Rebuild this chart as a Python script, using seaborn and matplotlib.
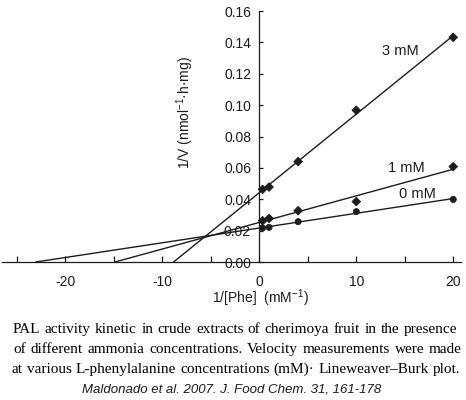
import numpy as np
import pandas as pd
import seaborn as sns
import matplotlib.pyplot as plt
from matplotlib.ticker import FixedLocator

# 1/[Phe] values (mM^-1) and 1/V readings for each ammonia concentration
inv_phe = [0.33, 1, 4, 10, 20]
inv_v_0mM = [0.0217, 0.0221, 0.0257, 0.0321, 0.0399]
inv_v_1mM = [0.0263, 0.0278, 0.0327, 0.0385, 0.0608]
inv_v_3mM = [0.0463, 0.0478, 0.0640, 0.0967, 0.1432]

series_names = ['0 mM', '1 mM', '3 mM']
series_markers = {'0 mM': 'o', '1 mM': 'D', '3 mM': 'D'}

x_major = [-20, -10, 0, 10, 20]
x_minor = [-25, -15, -5, 5, 15]
y_ticks = [0.00, 0.02, 0.04, 0.06, 0.08, 0.10, 0.12, 0.14, 0.16]

caption_lines = [
    'PAL activity kinetic in crude extracts of cherimoya fruit in the presence',
    'of different ammonia concentrations. Velocity measurements were made',
    'at various L-phenylalanine concentrations (mM)\u00b7 Lineweaver\u2013Burk plot.',
]
citation = 'Maldonado et al. 2007. J. Food Chem. 31, 161-178'

df = pd.DataFrame({
    'x': inv_phe * 3,
    'y': inv_v_0mM + inv_v_1mM + inv_v_3mM,
    'conc': [n for n in series_names for _ in inv_phe],
})

sns.set_style('white')
plt.rcParams['font.family'] = ['Liberation Sans', 'DejaVu Sans']
plt.rcParams['mathtext.default'] = 'regular'
plt.rcParams['axes.unicode_minus'] = False

ink = '#1c1c1c'
W, H = 466, 400
fig = plt.figure(figsize=(W / 100, H / 100), dpi=100)
ax = fig.add_axes([1.5 / W, 138 / H, 459.5 / W, 251 / H])

# least-squares lines, drawn from the x-intercept to the last point
for name in series_names:
    sub = df[df.conc == name]
    slope, icpt = np.polyfit(sub.x, sub.y, 1)
    xs = np.array([-icpt / slope, sub.x.max()])
    line = pd.DataFrame({'x': xs, 'y': slope * xs + icpt})
    sns.lineplot(data=line, x='x', y='y', ax=ax, color=ink, lw=1.0)

sns.scatterplot(data=df, x='x', y='y', style='conc', markers=series_markers,
                ax=ax, color=ink, s=20, edgecolor=ink, linewidth=0.5, legend=False)

ax.set_xlim(-26.6, 20.8)
ax.set_ylim(0, 0.16)

ax.spines['left'].set_position(('data', 0))
ax.spines['top'].set_visible(False)
ax.spines['right'].set_visible(False)
for sp in ['left', 'bottom']:
    ax.spines[sp].set_color(ink)
    ax.spines[sp].set_linewidth(0.9)

ax.xaxis.set_major_locator(FixedLocator(x_major))
ax.xaxis.set_minor_locator(FixedLocator(x_minor))
ax.set_yticks(y_ticks)
ax.set_yticklabels(['%.2f' % v for v in y_ticks])
ax.tick_params(axis='both', which='both', direction='in', width=0.9,
               color=ink, labelsize=10, labelcolor=ink)
ax.tick_params(axis='x', which='both', bottom=True, length=4, pad=9)
ax.tick_params(axis='y', left=True, length=3, pad=6)
ax.set_xlabel('')
ax.set_ylabel('')

ax.text(0.1, -0.023, '1/[Phe]  (mM$^{-1}$)', ha='center', va='center', fontsize=10, color=ink)
ax.text(-7.7, 0.095, '1/V (nmol$^{-1}$\u00b7h\u00b7mg)', rotation=90, ha='center', va='center',
        fontsize=10, color=ink)

ax.text(14.5, 0.1345, '3 mM', ha='center', va='center', fontsize=10.5, color=ink)
ax.text(15.2, 0.060, '1 mM', ha='center', va='center', fontsize=10.5, color=ink)
ax.text(16.3, 0.0433, '0 mM', ha='center', va='center', fontsize=10.5, color=ink)

# caption, justified word by word
renderer = fig.canvas.get_renderer()
caption_rows = [(13, 457, 333), (13, 462, 353), (12, 460, 373)]
for text_line, (x0, x1, base) in zip(caption_lines, caption_rows):
    words = text_line.split(' ')
    items = [fig.text(0, 1 - base / H, w, family=['Liberation Serif', 'DejaVu Serif'],
                      fontsize=11, va='baseline', color='black') for w in words]
    widths = [t.get_window_extent(renderer).width for t in items]
    gap = (x1 - x0 - sum(widths)) / (len(words) - 1)
    pos = x0
    for t, w in zip(items, widths):
        t.set_x(pos / W)
        pos += w + gap

fig.text(232 / W, 1 - 392 / H, citation, ha='center', va='baseline', fontsize=9.5,
         style='italic', color=ink)

fig.savefig('out.png', dpi=100)
